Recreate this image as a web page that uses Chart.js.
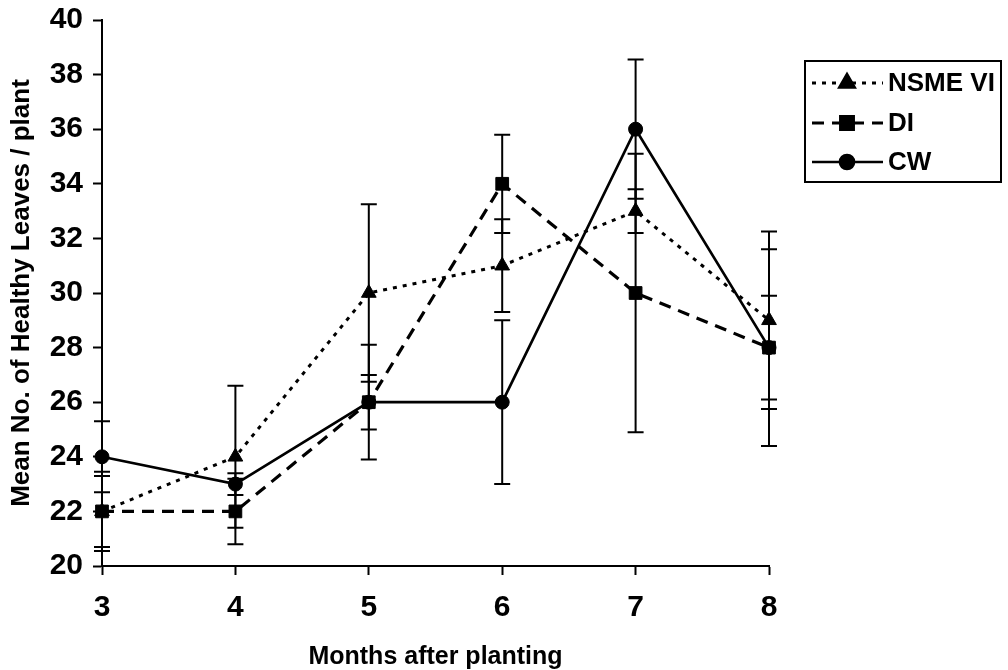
<!DOCTYPE html>
<html>
<head>
<meta charset="utf-8">
<script src="https://cdn.jsdelivr.net/npm/chart.js@4.4.1/dist/chart.umd.min.js"></script>
<style>
html,body{margin:0;padding:0;background:#fff;}
#wrap{width:1008px;height:670px;position:relative;}
</style>
</head>
<body>
<div id="wrap"><canvas id="c" width="1008" height="670"></canvas></div>
<script>
const months = ['3','4','5','6','7','8'];
const yTicks = [20,22,24,26,28,30,32,34,36,38,40];

const nsmeLabel = 'NSME VI';
const nsmeValues = [22, 24, 30, 31, 33, 29];
const nsmeErrors = [1.3, 2.6, 3.25, 1.7, 0.8, 3.25];

const diLabel = 'DI';
const diValues = [22, 22, 26, 34, 30, 28];
const diErrors = [1.45, 1.2, 2.1, 1.8, 5.1, 3.6];

const cwLabel = 'CW';
const cwValues = [24, 23, 26, 26, 36, 28];
const cwErrors = [1.3, 0.4, 1.0, 3.0, 2.55, 1.9];

const xTitle = 'Months after planting';
const yTitle = 'Mean No. of Healthy Leaves / plant';

const FONT = "'Liberation Sans', Arial, sans-serif";

const errorBars = {
  id: 'errorBars',
  beforeDatasetsDraw(chart) {
    const ctx = chart.ctx;
    const y = chart.scales.y;
    ctx.save();
    ctx.strokeStyle = '#000';
    ctx.lineWidth = 2;
    ctx.setLineDash([]);
    chart.data.datasets.forEach((ds, di) => {
      const meta = chart.getDatasetMeta(di);
      meta.data.forEach((pt, i) => {
        const v = ds.data[i], e = ds.errors[i];
        const yt = y.getPixelForValue(v + e), yb = y.getPixelForValue(v - e);
        const x = pt.x;
        ctx.beginPath();
        ctx.moveTo(x, yt); ctx.lineTo(x, yb);
        ctx.moveTo(x - 8, yt); ctx.lineTo(x + 8, yt);
        ctx.moveTo(x - 8, yb); ctx.lineTo(x + 8, yb);
        ctx.stroke();
      });
    });
    ctx.restore();
  }
};

const boxLegend = {
  id: 'boxLegend',
  afterDraw(chart) {
    const ctx = chart.ctx;
    ctx.save();
    ctx.strokeStyle = '#000';
    ctx.lineWidth = 2;
    ctx.setLineDash([]);
    ctx.strokeRect(805, 61, 196, 121);
    const rows = [83, 123, 162];
    chart.data.datasets.forEach((ds, i) => {
      const yy = rows[i];
      ctx.beginPath();
      ctx.setLineDash(ds.borderDash || []);
      ctx.lineWidth = ds.borderWidth;
      ctx.moveTo(812, yy); ctx.lineTo(883, yy);
      ctx.stroke();
      ctx.setLineDash([]);
      Chart.helpers.drawPoint(ctx, {pointStyle: ds.pointStyle, radius: ds.pointRadius, borderWidth: 1, rotation: 0}, 847, yy);
      ctx.fillStyle = '#000';
      ctx.fill();
      ctx.font = 'bold 26px ' + FONT;
      ctx.textBaseline = 'middle';
      ctx.textAlign = 'left';
      ctx.fillText(ds.label, 888, yy + 1);
    });
    ctx.restore();
  }
};

new Chart(document.getElementById('c'), {
  type: 'line',
  data: {
    labels: months,
    datasets: [
      {label: nsmeLabel, data: nsmeValues, errors: nsmeErrors, borderColor: '#000', backgroundColor: '#000',
       borderWidth: 3, borderDash: [4, 6], pointStyle: 'triangle', pointRadius: 8.5, pointBorderWidth: 1, tension: 0},
      {label: diLabel, data: diValues, errors: diErrors, borderColor: '#000', backgroundColor: '#000',
       borderWidth: 3.2, borderDash: [12, 8], pointStyle: 'rect', pointRadius: 9, pointBorderWidth: 1, tension: 0},
      {label: cwLabel, data: cwValues, errors: cwErrors, borderColor: '#000', backgroundColor: '#000',
       borderWidth: 2.7, borderDash: [], pointStyle: 'circle', pointRadius: 7, pointBorderWidth: 1, tension: 0}
    ]
  },
  options: {
    responsive: false,
    animation: false,
    layout: {padding: {top: 20, right: 239, left: 0, bottom: 0}},
    plugins: {legend: {display: false}, tooltip: {enabled: false}},
    scales: {
      x: {
        type: 'category',
        offset: false,
        border: {display: true, color: '#000', width: 2},
        grid: {drawOnChartArea: false, drawTicks: true, tickLength: 9, tickColor: '#000', tickWidth: 2},
        ticks: {color: '#000', font: {family: FONT, size: 30, weight: 'bold'}, padding: 15, maxRotation: 0},
        title: {display: true, text: xTitle, color: '#000', font: {family: FONT, size: 25, weight: 'bold', lineHeight: 1}, padding: {top: 0, bottom: 0}},
        afterFit(s) { s.height = 104; }
      },
      y: {
        type: 'linear',
        min: 20, max: 40,
        border: {display: true, color: '#000', width: 2},
        grid: {drawOnChartArea: false, drawTicks: true, tickLength: 9, tickColor: '#000', tickWidth: 2},
        afterBuildTicks(s) { s.ticks = yTicks.map(v => ({value: v})); },
        ticks: {color: '#000', font: {family: FONT, size: 30, weight: 'bold', lineHeight: 0.6}, padding: 10},
        title: {display: true, text: yTitle, color: '#000', font: {family: FONT, size: 26, weight: 'bold', lineHeight: 1}, padding: {top: 9, bottom: 0}},
        afterFit(s) { s.width = 102; }
      }
    }
  },
  plugins: [errorBars, boxLegend]
});
</script>
</body>
</html>
